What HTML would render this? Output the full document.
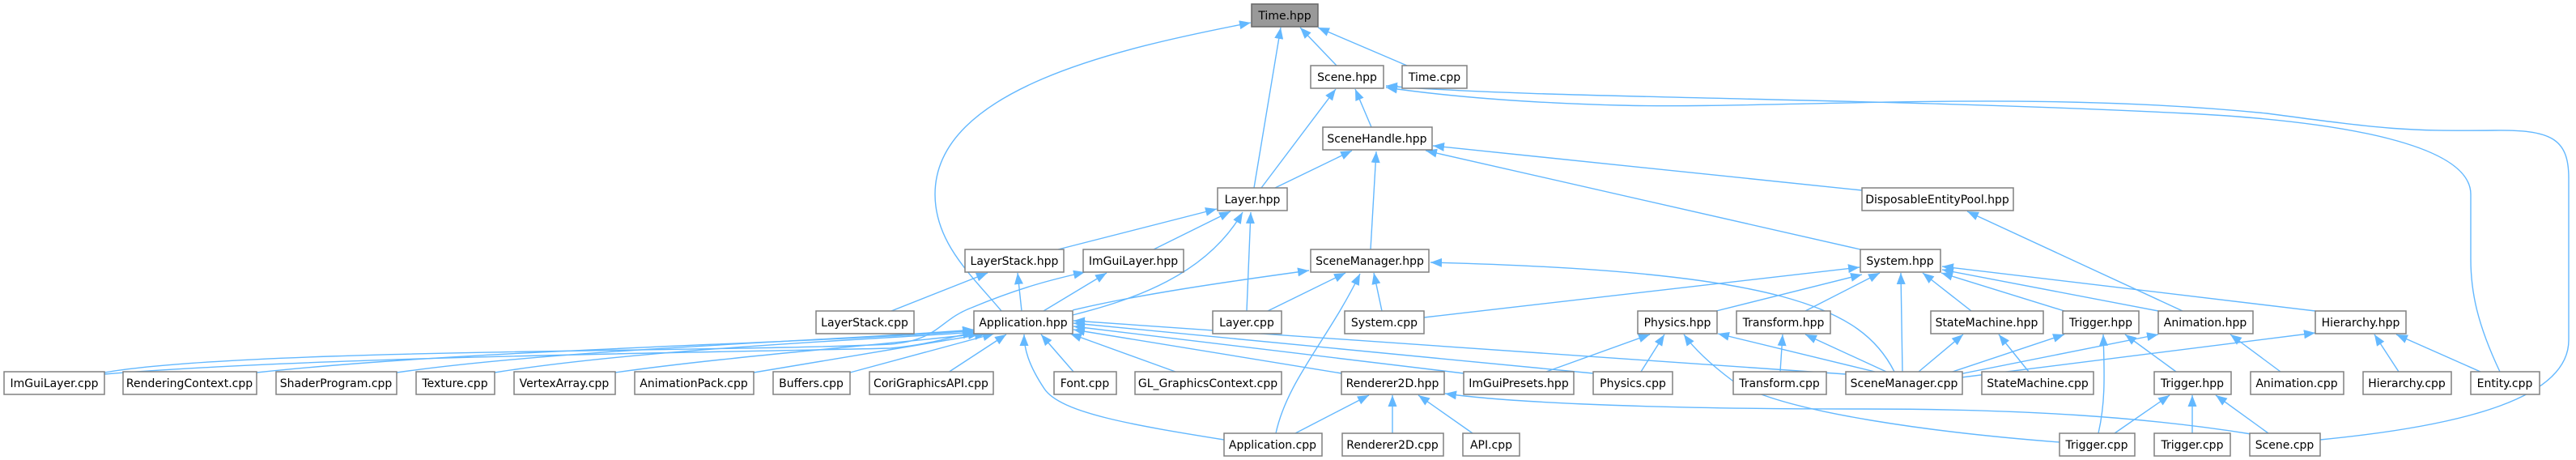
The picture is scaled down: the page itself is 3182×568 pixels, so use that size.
<!DOCTYPE html>
<html><head><meta charset="utf-8"><style>
html,body{margin:0;padding:0;background:#fff;}
svg{display:block;}
text{font-family:"DejaVu Sans","Liberation Sans",sans-serif;font-size:14px;fill:#000;text-anchor:middle;}
.n{fill:#fff;stroke:#808080;stroke-width:1.5;}
.e{fill:none;stroke:#63b8ff;stroke-width:1.4;marker-end:url(#a);}
</style></head><body>
<svg width="3182" height="568" viewBox="0 0 3182 568" xmlns="http://www.w3.org/2000/svg">
<defs><marker id="a" markerUnits="userSpaceOnUse" markerWidth="15" markerHeight="12" refX="14" refY="5.5" orient="auto"><path d="M0,0 L14,5.5 L0,11 z" fill="#63b8ff"/></marker></defs>
<g>
<path class="e" d="M1651,81 L1606,34"/>
<path class="e" d="M1738,81 L1628,34"/>
<path class="e" d="M1549,232 L1582,34"/>
<path class="e" d="M1237,384 C1200,340 1155,300 1155,240 C1155,110 1380,60 1545,28"/>
<path class="e" d="M1694,157 L1674,110"/>
<path class="e" d="M1558,232 L1650,110"/>
<path class="e" d="M3088,459 C3060,400 3052,360 3052,320 L3052,240 C3052,180 2900,150 2700,140 C2300,120 1900,122 1712,106"/>
<path class="e" d="M2866,543 C3050,525 3173,490 3173,420 L3173,220 C3173,170 3150,160 3080,161 C2970,162 2950,160 2800,140 C2500,110 2200,135 2000,130 C1850,126 1760,115 1712,108"/>
<path class="e" d="M1575,232 L1670,186"/>
<path class="e" d="M1693,308 L1700,187"/>
<path class="e" d="M2298,308 L1761,186"/>
<path class="e" d="M2300,235 L1770,180"/>
<path class="e" d="M1307,308 L1503,258"/>
<path class="e" d="M1425,308 L1520,261"/>
<path class="e" d="M1325,389 C1400,370 1490,340 1535,262"/>
<path class="e" d="M1540,384 L1545,262"/>
<path class="e" d="M2696,384 L2430,261"/>
<path class="e" d="M1101,384 L1220,337"/>
<path class="e" d="M1262,384 L1257,337"/>
<path class="e" d="M129,460 C300,430 900,435 1100,425 C1160,420 1160,395 1200,380 C1260,355 1300,345 1340,336"/>
<path class="e" d="M1289,384 L1367,337"/>
<path class="e" d="M1325,383 C1400,365 1500,350 1617,334"/>
<path class="e" d="M1566,384 L1662,337"/>
<path class="e" d="M1707,384 L1697,337"/>
<path class="e" d="M1576,535 C1590,470 1640,420 1680,338"/>
<path class="e" d="M2340,459 C2300,380 2200,335 1767,324"/>
<path class="e" d="M1759,392 L2297,330"/>
<path class="e" d="M2120,384 L2300,339"/>
<path class="e" d="M2230,384 L2322,337"/>
<path class="e" d="M2350,459 L2348,337"/>
<path class="e" d="M2435,384 L2375,337"/>
<path class="e" d="M2550,384 L2398,337"/>
<path class="e" d="M2666,384 L2399,333"/>
<path class="e" d="M2860,384 L2399,329"/>
<path class="e" d="M129,462 C400,440 900,435 1100,430 C1150,425 1180,415 1203,410"/>
<path class="e" d="M317,460 C600,430 1000,425 1203,408"/>
<path class="e" d="M490,460 C700,430 1050,420 1203,407"/>
<path class="e" d="M611,460 C800,430 1100,418 1205,410"/>
<path class="e" d="M760,460 C900,440 1100,425 1210,412"/>
<path class="e" d="M931,460 L1218,412"/>
<path class="e" d="M1050,460 L1228,412"/>
<path class="e" d="M1171,460 L1243,413"/>
<path class="e" d="M1326,459 L1286,413"/>
<path class="e" d="M1452,459 L1322,412"/>
<path class="e" d="M1657,461 L1326,407"/>
<path class="e" d="M1808,461 L1326,403"/>
<path class="e" d="M1968,461 L1326,399"/>
<path class="e" d="M2280,462 L1326,396"/>
<path class="e" d="M1512,543 C1400,525 1310,510 1290,480 C1270,450 1265,430 1265,413"/>
<path class="e" d="M1910,459 L2038,413"/>
<path class="e" d="M2027,459 L2056,413"/>
<path class="e" d="M2316,459 L2122,412"/>
<path class="e" d="M2544,546 C2400,535 2200,510 2140,470 C2100,440 2085,420 2080,413"/>
<path class="e" d="M2199,459 L2202,413"/>
<path class="e" d="M2330,459 L2230,413"/>
<path class="e" d="M2370,459 L2425,413"/>
<path class="e" d="M2506,459 L2469,413"/>
<path class="e" d="M2403,462 L2550,413"/>
<path class="e" d="M2592,535 C2600,500 2600,470 2598,413"/>
<path class="e" d="M2688,459 L2625,413"/>
<path class="e" d="M2405,465 L2666,413"/>
<path class="e" d="M2817,459 L2755,413"/>
<path class="e" d="M2415,467 L2860,411"/>
<path class="e" d="M2963,459 L2933,413"/>
<path class="e" d="M3064,459 L2960,413"/>
<path class="e" d="M1600,535 L1691,488"/>
<path class="e" d="M1720,535 L1720,488"/>
<path class="e" d="M1819,535 L1752,488"/>
<path class="e" d="M2781,536 C2650,515 2500,505 2300,505 C2000,505 1850,495 1785,486"/>
<path class="e" d="M2612,535 L2680,488"/>
<path class="e" d="M2708,535 L2708,488"/>
<path class="e" d="M2802,535 L2737,488"/>
</g>
<g>
<rect x="1546" y="5" width="82" height="28" fill="#999" stroke="#666" stroke-width="1.5"/><text x="1587" y="24">Time.hpp</text>
<rect class="n" x="1619" y="81" width="90" height="28"/><text x="1664" y="100">Scene.hpp</text>
<rect class="n" x="1732" y="81" width="80" height="28"/><text x="1772" y="100">Time.cpp</text>
<rect class="n" x="1634" y="157" width="135" height="28"/><text x="1701" y="176">SceneHandle.hpp</text>
<rect class="n" x="1504" y="232" width="86" height="28"/><text x="1547" y="251">Layer.hpp</text>
<rect class="n" x="2300" y="232" width="187" height="28"/><text x="2393" y="251">DisposableEntityPool.hpp</text>
<rect class="n" x="1192" y="308" width="122" height="28"/><text x="1253" y="327">LayerStack.hpp</text>
<rect class="n" x="1338" y="308" width="124" height="28"/><text x="1400" y="327">ImGuiLayer.hpp</text>
<rect class="n" x="1619" y="308" width="146" height="28"/><text x="1692" y="327">SceneManager.hpp</text>
<rect class="n" x="2298" y="308" width="99" height="28"/><text x="2347" y="327">System.hpp</text>
<rect class="n" x="1008" y="384" width="121" height="28"/><text x="1068" y="403">LayerStack.cpp</text>
<rect class="n" x="1203" y="384" width="122" height="28"/><text x="1264" y="403">Application.hpp</text>
<rect class="n" x="1498" y="384" width="85" height="28"/><text x="1540" y="403">Layer.cpp</text>
<rect class="n" x="1661" y="384" width="98" height="28"/><text x="1710" y="403">System.cpp</text>
<rect class="n" x="2023" y="384" width="98" height="28"/><text x="2072" y="403">Physics.hpp</text>
<rect class="n" x="2145" y="384" width="116" height="28"/><text x="2203" y="403">Transform.hpp</text>
<rect class="n" x="2385" y="384" width="139" height="28"/><text x="2454" y="403">StateMachine.hpp</text>
<rect class="n" x="2548" y="384" width="94" height="28"/><text x="2595" y="403">Trigger.hpp</text>
<rect class="n" x="2666" y="384" width="117" height="28"/><text x="2724" y="403">Animation.hpp</text>
<rect class="n" x="2860" y="384" width="112" height="28"/><text x="2916" y="403">Hierarchy.hpp</text>
<rect class="n" x="5" y="459" width="124" height="28"/><text x="67" y="478">ImGuiLayer.cpp</text>
<rect class="n" x="152" y="459" width="165" height="28"/><text x="234" y="478">RenderingContext.cpp</text>
<rect class="n" x="341" y="459" width="149" height="28"/><text x="415" y="478">ShaderProgram.cpp</text>
<rect class="n" x="514" y="459" width="97" height="28"/><text x="562" y="478">Texture.cpp</text>
<rect class="n" x="635" y="459" width="125" height="28"/><text x="697" y="478">VertexArray.cpp</text>
<rect class="n" x="784" y="459" width="147" height="28"/><text x="857" y="478">AnimationPack.cpp</text>
<rect class="n" x="955" y="459" width="95" height="28"/><text x="1002" y="478">Buffers.cpp</text>
<rect class="n" x="1074" y="459" width="153" height="28"/><text x="1150" y="478">CoriGraphicsAPI.cpp</text>
<rect class="n" x="1302" y="459" width="77" height="28"/><text x="1340" y="478">Font.cpp</text>
<rect class="n" x="1402" y="459" width="181" height="28"/><text x="1492" y="478">GL_GraphicsContext.cpp</text>
<rect class="n" x="1657" y="459" width="127" height="28"/><text x="1720" y="478">Renderer2D.hpp</text>
<rect class="n" x="1808" y="459" width="136" height="28"/><text x="1876" y="478">ImGuiPresets.hpp</text>
<rect class="n" x="1968" y="459" width="98" height="28"/><text x="2017" y="478">Physics.cpp</text>
<rect class="n" x="2141" y="459" width="115" height="28"/><text x="2198" y="478">Transform.cpp</text>
<rect class="n" x="2280" y="459" width="144" height="28"/><text x="2352" y="478">SceneManager.cpp</text>
<rect class="n" x="2448" y="459" width="138" height="28"/><text x="2517" y="478">StateMachine.cpp</text>
<rect class="n" x="2661" y="459" width="95" height="28"/><text x="2708" y="478">Trigger.hpp</text>
<rect class="n" x="2780" y="459" width="115" height="28"/><text x="2837" y="478">Animation.cpp</text>
<rect class="n" x="2919" y="459" width="109" height="28"/><text x="2973" y="478">Hierarchy.cpp</text>
<rect class="n" x="3052" y="459" width="85" height="28"/><text x="3094" y="478">Entity.cpp</text>
<rect class="n" x="1512" y="535" width="121" height="28"/><text x="1572" y="554">Application.cpp</text>
<rect class="n" x="1658" y="535" width="125" height="28"/><text x="1720" y="554">Renderer2D.cpp</text>
<rect class="n" x="1807" y="535" width="70" height="28"/><text x="1842" y="554">API.cpp</text>
<rect class="n" x="2544" y="535" width="93" height="28"/><text x="2590" y="554">Trigger.cpp</text>
<rect class="n" x="2661" y="535" width="94" height="28"/><text x="2708" y="554">Trigger.cpp</text>
<rect class="n" x="2779" y="535" width="87" height="28"/><text x="2822" y="554">Scene.cpp</text>
</g>
</svg>
</body></html>
